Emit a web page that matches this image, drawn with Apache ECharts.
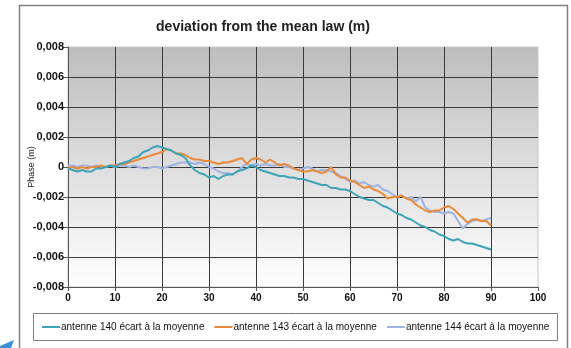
<!DOCTYPE html>
<html>
<head>
<meta charset="utf-8">
<script src="https://cdn.jsdelivr.net/npm/echarts@6/dist/echarts.min.js"></script>
<style>html,body{margin:0;padding:0;background:#fff;}#c{width:571px;height:348px;}</style>
</head>
<body>
<div id="c"></div>
<script>
const xValues = Array.from({length: 91}, (_, i) => i);
const s140 = [-0.0001,-0.0002,-0.0003,-0.0002,-0.0003,-0.0003,-0.0001,-0.0001,0.0000,0.0001,
0.0000,0.0002,0.0003,0.0004,0.0006,0.0007,0.0010,0.0011,0.0013,0.0014,
0.0013,0.0012,0.0011,0.0009,0.0008,0.0006,0.0001,-0.0002,-0.0004,-0.0005,
-0.0007,-0.0006,-0.0008,-0.0006,-0.0005,-0.0005,-0.0003,-0.0002,-0.0001,0.0001,
0.0000,-0.0002,-0.0003,-0.0004,-0.0005,-0.0006,-0.0006,-0.0007,-0.0007,-0.0008,
-0.0008,-0.0009,-0.0010,-0.0011,-0.0012,-0.0012,-0.0014,-0.0014,-0.0015,-0.0015,
-0.0016,-0.0018,-0.0020,-0.0021,-0.0022,-0.0022,-0.0024,-0.0026,-0.0027,-0.0029,
-0.0031,-0.0032,-0.0034,-0.0035,-0.0037,-0.0039,-0.0040,-0.0042,-0.0043,-0.0045,
-0.0046,-0.0048,-0.0049,-0.0048,-0.0050,-0.0051,-0.0051,-0.0052,-0.0053,-0.0054,-0.0055];
const s143 = [-0.0001,0.0000,-0.0001,0.0000,-0.0001,0.0000,0.0000,0.0001,0.0000,0.0001,
0.0001,0.0002,0.0002,0.0003,0.0004,0.0005,0.0006,0.0007,0.0008,0.0009,
0.0010,0.0012,0.0011,0.0009,0.0009,0.0008,0.0006,0.0005,0.0005,0.0004,
0.0004,0.0003,0.0002,0.0003,0.0003,0.0004,0.0005,0.0006,0.0002,0.0005,
0.0006,0.0005,0.0003,0.0005,0.0003,0.0001,0.0002,0.0001,-0.0001,-0.0002,
-0.0003,-0.0003,-0.0002,-0.0003,-0.0004,-0.0003,0.0000,-0.0005,-0.0007,-0.0007,
-0.0009,-0.0010,-0.0012,-0.0014,-0.0013,-0.0015,-0.0016,-0.0018,-0.0021,-0.0020,
-0.0020,-0.0019,-0.0021,-0.0022,-0.0025,-0.0027,-0.0029,-0.0030,-0.0029,-0.0029,
-0.0027,-0.0026,-0.0028,-0.0031,-0.0034,-0.0037,-0.0035,-0.0035,-0.0036,-0.0036,-0.0039];
const s144 = [0.0001,0.0001,0.0000,0.0001,0.0001,0.0000,0.0001,0.0000,0.0000,0.0001,
0.0000,0.0001,0.0001,0.0000,0.0001,0.0000,-0.0001,-0.0001,0.0000,0.0000,
-0.0001,0.0000,0.0001,0.0002,0.0003,0.0003,0.0003,0.0002,0.0003,0.0002,
0.0000,-0.0001,-0.0003,-0.0004,-0.0004,-0.0005,-0.0003,0.0000,0.0002,0.0001,
0.0002,0.0001,0.0002,0.0001,0.0001,0.0002,0.0000,0.0000,-0.0001,-0.0002,
-0.0001,0.0000,-0.0001,-0.0003,-0.0002,-0.0002,-0.0003,-0.0004,-0.0006,-0.0008,
-0.0010,-0.0009,-0.0011,-0.0010,-0.0012,-0.0013,-0.0012,-0.0015,-0.0016,-0.0018,
-0.0020,-0.0019,-0.0021,-0.0020,-0.0023,-0.0020,-0.0027,-0.0029,-0.0030,-0.0030,
-0.0031,-0.0030,-0.0031,-0.0036,-0.0041,-0.0038,-0.0036,-0.0035,-0.0036,-0.0035,-0.0034];
const seriesNames = ['antenne 140 écart à la moyenne','antenne 143 écart à la moyenne','antenne 144 écart à la moyenne'];
const seriesColors = ['#3ea3b8','#ec8a3c','#9fb4e0'];
const titleText = 'deviation from the mean law (m)';
const yName = 'Phase (m)';

const chart = echarts.init(document.getElementById('c'), null, {renderer:'canvas'});
const font = 'Liberation Sans, Arial, sans-serif';
const mk = (arr) => xValues.map((x, i) => [x, arr[i]]);
chart.setOption({
  animation: false,
  backgroundColor: '#fff',
  title: {text: titleText, left: 258, top: 15, textAlign: 'center',
    textStyle: {fontFamily: font, fontSize: 14, fontWeight: 'bold', color: '#222'}},
  graphic: [
    {type:'rect', shape:{x:19.5,y:5.5,width:548,height:350}, style:{fill:'none',stroke:'#7f7f7f',lineWidth:1.5}, z:-1},
    {type:'rect', shape:{x:33.5,y:313.5,width:524,height:27}, style:{fill:'#fff',stroke:'#7f7f7f',lineWidth:1}, z:0},
    {type:'polygon', shape:{points:[[0,346],[14,340],[11,348],[0,348]]}, style:{fill:'#3a8fd8'}}
  ],
  legend: {data: seriesNames, left: 42, top: 322, width: 525, padding: 0, itemWidth: 18, itemHeight: 2, itemGap: 10, icon: 'rect',
    textStyle: {fontFamily: font, fontSize: 10, color: '#111', padding:[0,0,0,-4]}, z: 5},
  grid: {left: 68, top: 47, right: 33, bottom: 61, show: true, borderColor: '#c8c8c8', borderWidth: 1,
    backgroundColor: new echarts.graphic.LinearGradient(0,0,0,1,[{offset:0,color:'#bdbdbd'},{offset:1,color:'#ffffff'}])},
  xAxis: {type:'value', min:0, max:100, interval:10,
    axisLine:{show:true, onZero:false, lineStyle:{color:'#555', width:1}},
    axisTick:{show:true, length:4, lineStyle:{color:'#555'}},
    axisLabel:{fontFamily:font, fontSize:10, fontWeight:'bold', color:'#111', margin:6},
    splitLine:{show:true, showMinLine:false, showMaxLine:false, lineStyle:{color:'#3a3a3a', width:1}}},
  yAxis: {type:'value', min:-0.008, max:0.008, interval:0.002,
    name: yName, nameLocation:'middle', nameGap:32, nameRotate:90, nameMoveOverlap:false,
    nameTextStyle:{fontFamily:font, fontSize:9, color:'#222'},
    axisLine:{show:true, lineStyle:{color:'#555', width:1}},
    axisTick:{show:true, length:5, lineStyle:{color:'#555'}},
    axisLabel:{fontFamily:font, fontSize:11, fontWeight:'bold', color:'#111', margin:4,
      formatter: v => Math.abs(v) < 1e-9 ? '0' : v.toFixed(3).replace('.', ',')},
    splitLine:{show:true, showMinLine:false, showMaxLine:false, lineStyle:{color:'#3a3a3a', width:1}}},
  series: [s140, s143, s144].map((arr, i) => ({
    name: seriesNames[i], type:'line', data: mk(arr), showSymbol:false, symbol:'none',
    lineStyle:{color: seriesColors[i], width: 2}, itemStyle:{color: seriesColors[i]}, z: 3 + (2 - i)
  }))
});
</script>
</body>
</html>
